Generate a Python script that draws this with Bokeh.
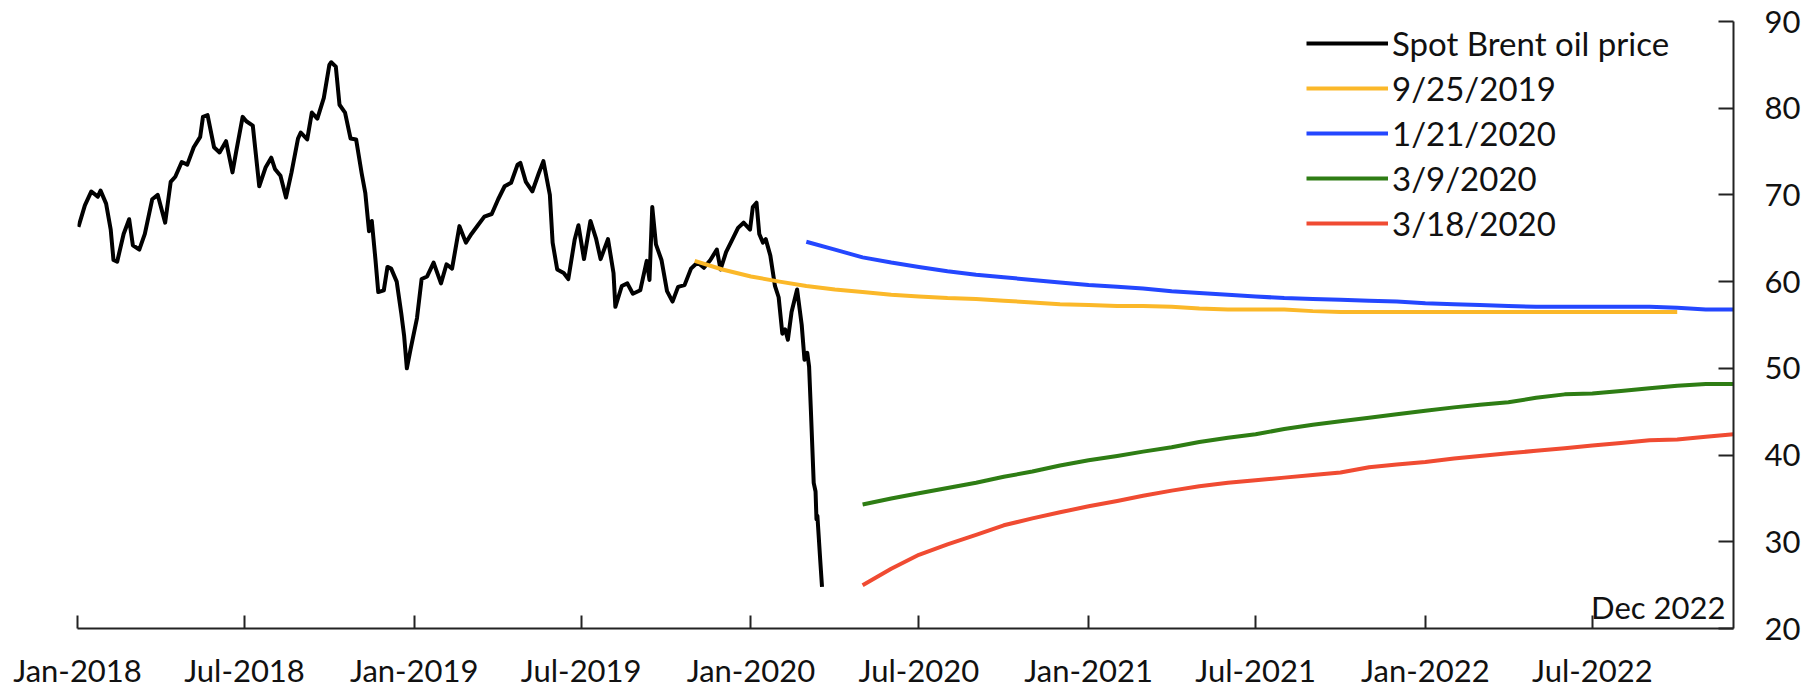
import pandas as pd
from bokeh.plotting import figure
from bokeh.models import FixedTicker, Legend, LegendItem, Label, Range1d
from bokeh.embed import file_html
from bokeh.resources import INLINE

# ---------------- data ----------------
spot_dates = [
    "2018-01-02", "2018-01-09", "2018-01-16", "2018-01-23", "2018-01-26", "2018-02-01", "2018-02-06",
    "2018-02-09", "2018-02-13", "2018-02-20", "2018-02-26", "2018-03-02", "2018-03-09", "2018-03-15",
    "2018-03-23", "2018-03-29", "2018-04-06", "2018-04-12", "2018-04-17", "2018-04-24", "2018-04-30",
    "2018-05-07", "2018-05-14", "2018-05-17", "2018-05-22", "2018-05-29", "2018-06-04", "2018-06-11",
    "2018-06-18", "2018-06-22", "2018-06-29", "2018-07-03", "2018-07-10", "2018-07-13", "2018-07-17",
    "2018-07-24", "2018-07-30", "2018-08-03", "2018-08-09", "2018-08-15", "2018-08-21", "2018-08-28",
    "2018-08-31", "2018-09-07", "2018-09-12", "2018-09-18", "2018-09-25", "2018-10-01", "2018-10-03",
    "2018-10-08", "2018-10-12", "2018-10-18", "2018-10-24", "2018-10-30", "2018-11-05", "2018-11-09",
    "2018-11-13", "2018-11-16", "2018-11-20", "2018-11-23", "2018-11-29", "2018-12-03", "2018-12-07",
    "2018-12-13", "2018-12-18", "2018-12-21", "2018-12-24", "2018-12-28",
    "2019-01-04", "2019-01-09", "2019-01-15", "2019-01-22", "2019-01-30", "2019-02-05", "2019-02-11",
    "2019-02-19", "2019-02-26", "2019-03-04", "2019-03-11", "2019-03-18", "2019-03-26", "2019-04-02",
    "2019-04-09", "2019-04-16", "2019-04-23", "2019-04-26", "2019-05-02", "2019-05-09", "2019-05-16",
    "2019-05-21", "2019-05-28", "2019-05-31", "2019-06-05", "2019-06-12", "2019-06-17", "2019-06-24",
    "2019-06-28", "2019-07-04", "2019-07-11", "2019-07-17", "2019-07-22", "2019-07-30", "2019-08-05",
    "2019-08-07", "2019-08-14", "2019-08-20", "2019-08-26", "2019-09-03", "2019-09-10", "2019-09-13",
    "2019-09-16", "2019-09-20", "2019-09-26", "2019-10-02", "2019-10-08", "2019-10-14", "2019-10-21",
    "2019-10-28", "2019-11-04", "2019-11-11", "2019-11-18", "2019-11-25", "2019-11-29", "2019-12-05",
    "2019-12-12", "2019-12-18", "2019-12-24", "2019-12-31",
    "2020-01-03", "2020-01-07", "2020-01-10", "2020-01-14", "2020-01-17", "2020-01-22", "2020-01-27",
    "2020-01-31", "2020-02-04", "2020-02-07", "2020-02-10", "2020-02-14", "2020-02-20", "2020-02-25",
    "2020-02-28", "2020-03-02", "2020-03-04", "2020-03-06", "2020-03-09", "2020-03-11", "2020-03-12",
    "2020-03-13", "2020-03-16", "2020-03-18",
]
spot_values = [
    66.3, 68.8, 70.4, 69.8, 70.5, 69.0, 66.0,
    62.5, 62.3, 65.5, 67.2, 64.2, 63.7, 65.5,
    69.5, 70.0, 66.8, 71.5, 72.1, 73.8, 73.5,
    75.5, 76.7, 79.0, 79.2, 75.5, 74.9, 76.2,
    72.6, 75.0, 79.0, 78.5, 78.0, 75.0, 71.0,
    73.2, 74.3, 73.0, 72.2, 69.7, 72.6, 76.5,
    77.2, 76.4, 79.5, 78.8, 81.2, 85.0, 85.3,
    84.8, 80.4, 79.5, 76.5, 76.4, 72.5, 70.2,
    65.8, 67.0, 62.5, 58.8, 59.0, 61.7, 61.5,
    60.0, 56.3, 53.8, 50.0, 52.2,
    55.8, 60.3, 60.6, 62.2, 59.8, 62.0, 61.5,
    66.4, 64.5, 65.5, 66.5, 67.5, 67.8, 69.5,
    71.0, 71.4, 73.5, 73.7, 71.5, 70.4, 72.5,
    73.9, 70.0, 64.5, 61.4, 61.0, 60.3, 64.9,
    66.5, 62.6, 67.0, 65.0, 62.6, 64.9, 61.0,
    57.1, 59.5, 59.8, 58.6, 59.0, 62.4, 60.2,
    68.6, 64.3, 62.5, 58.9, 57.7, 59.4, 59.6,
    61.5, 62.2, 61.6, 62.5, 63.7, 61.4, 63.4,
    64.9, 66.2, 66.8, 66.0,
    68.6, 69.1, 65.5, 64.5, 64.9, 63.0, 59.5,
    58.2, 54.0, 54.5, 53.3, 56.5, 59.1, 55.0,
    51.0, 51.8, 50.2, 45.0, 36.8, 35.8, 32.6,
    33.0, 28.0, 24.8,
]

curve_labels = ["9/25/2019", "1/21/2020", "3/9/2020", "3/18/2020"]
curve_colors = ["#FBB829", "#2447FF", "#2E7D14", "#F04B32"]
curve_first_month = ["2019-11-01", "2020-03-01", "2020-05-01", "2020-05-01"]

curve_sep25_2019 = [
    62.4, 61.4, 60.6, 60.0, 59.5, 59.1, 58.8, 58.5, 58.3, 58.1, 58.0, 57.8,
    57.6, 57.4, 57.3, 57.2, 57.2, 57.1, 56.9, 56.8, 56.8, 56.8, 56.6, 56.5,
    56.5, 56.5, 56.5, 56.5, 56.5, 56.5, 56.5, 56.5, 56.5, 56.5, 56.5, 56.5,
]
curve_jan21_2020 = [
    64.6, 63.7, 62.8, 62.2, 61.7, 61.2, 60.8, 60.5, 60.2, 59.9, 59.6, 59.4,
    59.2, 58.9, 58.7, 58.5, 58.3, 58.1, 58.0, 57.9, 57.8, 57.7, 57.5, 57.4,
    57.3, 57.2, 57.1, 57.1, 57.1, 57.1, 57.1, 57.0, 56.8, 56.8,
]
curve_mar9_2020 = [
    34.3, 35.0, 35.6, 36.2, 36.8, 37.5, 38.1, 38.8, 39.4, 39.9, 40.4, 40.9,
    41.5, 42.0, 42.4, 43.0, 43.5, 43.9, 44.3, 44.7, 45.1, 45.5, 45.8, 46.1,
    46.6, 47.0, 47.1, 47.4, 47.7, 48.0, 48.2, 48.2,
]
curve_mar18_2020 = [
    25.0, 26.9, 28.5, 29.7, 30.8, 31.9, 32.7, 33.4, 34.1, 34.7, 35.3, 35.9,
    36.4, 36.8, 37.1, 37.4, 37.7, 38.0, 38.6, 38.9, 39.2, 39.6, 39.9, 40.2,
    40.5, 40.8, 41.1, 41.4, 41.7, 41.8, 42.1, 42.4,
]
curves = [curve_sep25_2019, curve_jan21_2020, curve_mar9_2020, curve_mar18_2020]

x_tick_labels = ["Jan-2018", "Jul-2018", "Jan-2019", "Jul-2019", "Jan-2020",
                 "Jul-2020", "Jan-2021", "Jul-2021", "Jan-2022", "Jul-2022"]
x_tick_dates = ["2018-01-01", "2018-07-01", "2019-01-01", "2019-07-01", "2020-01-01",
                "2020-07-01", "2021-01-01", "2021-07-01", "2022-01-01", "2022-07-01"]
y_ticks = [20, 30, 40, 50, 60, 70, 80, 90]
x_start, x_end = "2018-01-01", "2022-12-01"
end_note = "Dec 2022"

FONT = "Lato"
TXT = "#111111"


def ms(d):
    return int(pd.Timestamp(d).value // 10**6)


p = figure(
    x_axis_type="datetime", y_axis_location="right",
    frame_width=1656, frame_height=607,
    min_border_left=77, min_border_top=21, min_border_right=78, min_border_bottom=59,
    x_range=Range1d(ms(x_start), ms(x_end)), y_range=Range1d(20, 90),
    output_backend="svg", toolbar_location=None, title=None,
)
p.outline_line_color = None
p.grid.visible = False
p.background_fill_color = "white"
p.border_fill_color = "white"

# x axis
xa = p.xaxis[0]
xa.ticker = FixedTicker(ticks=[ms(d) for d in x_tick_dates])
xa.major_label_overrides = {ms(d): lab for d, lab in zip(x_tick_dates, x_tick_labels)}
xa.major_tick_in = 13
xa.major_tick_out = 0
xa.minor_tick_line_color = None
xa.axis_line_width = 2
xa.major_tick_line_width = 2
xa.axis_line_color = "#222222"
xa.major_tick_line_color = "#222222"
xa.major_label_standoff = 22
xa.major_label_text_font = FONT
xa.major_label_text_font_size = "31px"
xa.major_label_text_color = TXT

# y axis (right)
ya = p.yaxis[0]
ya.ticker = FixedTicker(ticks=y_ticks)
ya.major_tick_in = 15
ya.major_tick_out = 0
ya.minor_tick_line_color = None
ya.axis_line_width = 2
ya.major_tick_line_width = 2
ya.axis_line_color = "#222222"
ya.major_tick_line_color = "#222222"
ya.major_label_standoff = 31
ya.major_label_text_font = FONT
ya.major_label_text_font_size = "31px"
ya.major_label_text_color = TXT

items = []
r_spot = p.line(pd.to_datetime(spot_dates), spot_values, line_color="black", line_width=4,
                line_join="round")
items.append(LegendItem(label="Spot Brent oil price", renderers=[r_spot]))

for lab, col, first, vals in zip(curve_labels, curve_colors, curve_first_month, curves):
    xs = pd.date_range(first, periods=len(vals), freq="MS")
    r = p.line(xs, vals, line_color=col, line_width=4, line_join="round")
    items.append(LegendItem(label=lab, renderers=[r]))

legend = Legend(
    items=items, location=(1229, 385), padding=0, margin=0,
    border_line_color=None, background_fill_alpha=0,
    glyph_width=82, glyph_height=40, label_height=40, spacing=5, label_standoff=4,
    label_text_font=FONT, label_text_font_size="33px", label_text_color=TXT,
)
p.add_layout(legend)

note = Label(x=ms(x_end), y=20, text=end_note, text_align="right", text_baseline="alphabetic",
             x_offset=-8, y_offset=22, text_font=FONT, text_font_size="31px", text_color=TXT)
p.add_layout(note)

open("out.html", "w").write(file_html(p, INLINE))
